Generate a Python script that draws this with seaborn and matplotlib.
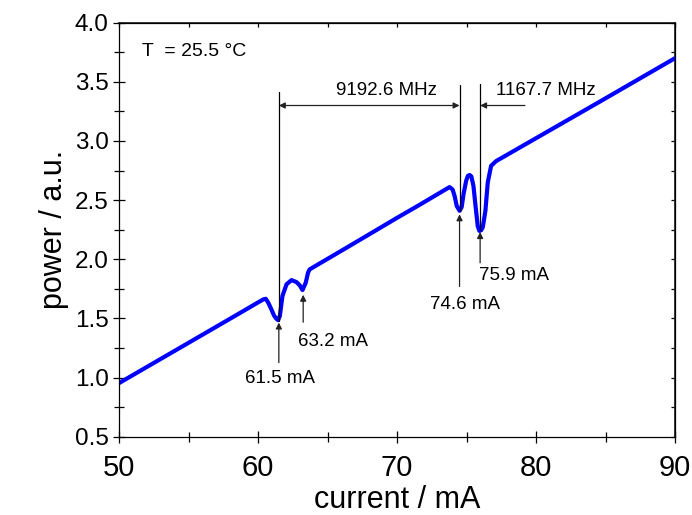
import matplotlib
matplotlib.use("Agg")
import matplotlib.pyplot as plt
import seaborn as sns
import pandas as pd
from matplotlib.ticker import MultipleLocator

sns.set_theme(style="ticks")
plt.rcParams['font.family'] = ['Liberation Sans', 'DejaVu Sans']
plt.rcParams['text.color'] = 'black'
plt.rcParams['axes.labelcolor'] = 'black'
plt.rcParams['xtick.color'] = 'black'
plt.rcParams['ytick.color'] = 'black'

# Data
current = [50.0, 55.58, 58.69, 60.0, 60.37, 60.56, 60.75, 60.95, 61.15, 61.3, 61.44, 61.57,
           61.76, 62.05, 62.41, 62.77, 63.0, 63.2, 63.43, 63.6, 63.72, 66.36, 70.0, 71.62,
           73.3, 73.78, 74.0, 74.14, 74.3, 74.5, 74.65, 74.8, 74.98, 75.1, 75.22, 75.35,
           75.5, 75.65, 75.81, 75.93, 76.05, 76.17, 76.36, 76.53, 76.77, 77.13, 78.57,
           84.55, 90.0]
power = [0.953, 1.333, 1.545, 1.635, 1.66, 1.666, 1.63, 1.58, 1.525, 1.50, 1.485, 1.52,
         1.69, 1.788, 1.824, 1.807, 1.78, 1.74, 1.80, 1.887, 1.915, 2.097, 2.35, 2.46,
         2.577, 2.61, 2.59, 2.537, 2.45, 2.41, 2.44, 2.56, 2.665, 2.705, 2.713, 2.70,
         2.62, 2.45, 2.28, 2.24, 2.245, 2.27, 2.41, 2.65, 2.79, 2.83, 2.927,
         3.33, 3.70]

dip_labels = ["61.5 mA", "63.2 mA", "74.6 mA", "75.9 mA"]
dip_pos = [61.5, 63.25, 74.5, 75.98]
freq_labels = ["9192.6 MHz", "1167.7 MHz"]
temp_label = "T  = 25.5 °C"

df = pd.DataFrame({"current": current, "power": power})

fig = plt.figure(figsize=(6.92, 5.15), dpi=100)
ax = fig.add_axes([119/692, 1 - 436.7/515, (675 - 119)/692, (436.7 - 22.7)/515])

sns.lineplot(data=df, x="current", y="power", ax=ax, color="#0000ff", lw=3.0, sort=False)
ax.lines[0].set_solid_joinstyle('round')

ax.set_xlim(50, 90)
ax.set_ylim(0.5, 4.0)
ax.xaxis.set_major_locator(MultipleLocator(10))
ax.xaxis.set_minor_locator(MultipleLocator(5))
ax.yaxis.set_major_locator(MultipleLocator(0.5))
ax.yaxis.set_minor_locator(MultipleLocator(0.25))
ax.yaxis.set_major_formatter(matplotlib.ticker.FormatStrFormatter('%.1f'))
ax.tick_params(which='major', direction='inout', length=9, width=0.9, color='black')
ax.tick_params(which='minor', direction='inout', length=7, width=0.9, color='black')
ax.tick_params(axis='x', labelsize=21, pad=8)
ax.tick_params(axis='y', labelsize=17.5, pad=3)
for s in ax.spines.values():
    s.set_linewidth(0.9)
    s.set_color('black')

# top / right inward ticks
sx = ax.secondary_xaxis('top')
sx.xaxis.set_major_locator(MultipleLocator(10))
sx.xaxis.set_minor_locator(MultipleLocator(5))
sx.tick_params(which='both', direction='in', length=3, width=0.9, labeltop=False)
sy = ax.secondary_yaxis('right')
sy.yaxis.set_major_locator(MultipleLocator(0.5))
sy.yaxis.set_minor_locator(MultipleLocator(0.25))
sy.tick_params(which='both', direction='in', length=3, width=0.9, labelright=False)

ax.set_xlabel("current / mA", fontsize=22, labelpad=2)
ax.set_ylabel("power / a.u.", fontsize=22, labelpad=4)

# vertical marker lines
ax.plot([dip_pos[0], dip_pos[0]], [3.415, 1.476], color='black', lw=0.9)
ax.plot([dip_pos[2], dip_pos[2]], [3.47, 2.41], color='black', lw=0.9)
ax.plot([dip_pos[3], dip_pos[3]], [3.48, 2.25], color='black', lw=0.9)

arrow = dict(arrowstyle='-|>', color='#222222', lw=0.9, mutation_scale=9, shrinkA=0, shrinkB=0)
# frequency arrows
ax.annotate('', xy=(dip_pos[2], 3.30), xytext=(dip_pos[0], 3.30),
            arrowprops=dict(arrowstyle='<|-|>', color='#222222', lw=0.9, mutation_scale=9,
                            shrinkA=0, shrinkB=0))
ax.annotate('', xy=(dip_pos[3], 3.30), xytext=(79.2, 3.30), arrowprops=arrow)
ax.text(69.23, 3.43, freq_labels[0], fontsize=13.5, ha='center', va='center')
ax.text(80.72, 3.43, freq_labels[1], fontsize=13.5, ha='center', va='center')

# dip arrows
ax.annotate('', xy=(dip_pos[0], 1.465), xytext=(dip_pos[0], 1.126), arrowprops=arrow)
ax.annotate('', xy=(dip_pos[1], 1.70), xytext=(dip_pos[1], 1.468), arrowprops=arrow)
ax.annotate('', xy=(dip_pos[2], 2.38), xytext=(dip_pos[2], 1.77), arrowprops=arrow)
ax.annotate('', xy=(dip_pos[3], 2.23), xytext=(dip_pos[3], 1.97), arrowprops=arrow)
ax.text(61.57, 0.99, dip_labels[0], fontsize=13.5, ha='center', va='center')
ax.text(65.37, 1.306, dip_labels[1], fontsize=13.5, ha='center', va='center')
ax.text(74.9, 1.62, dip_labels[2], fontsize=13.5, ha='center', va='center')
ax.text(78.4, 1.86, dip_labels[3], fontsize=13.5, ha='center', va='center')

ax.text(51.62, 3.76, temp_label, fontsize=14, ha='left', va='center')

fig.savefig("out.png", dpi=100)
